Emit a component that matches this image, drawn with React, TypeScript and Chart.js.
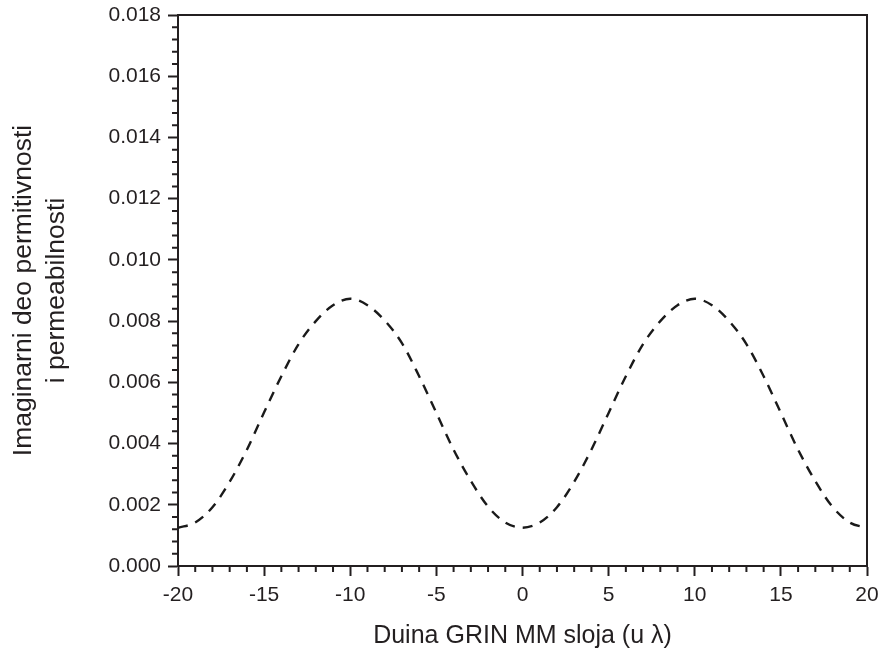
import React, { useEffect, useRef } from "react";
import { Chart, registerables } from "chart.js";

Chart.register(...registerables);

const xValues: number[] = [
  -20, -19, -18, -17, -16, -15, -14, -13, -12, -11, -10, -9, -8, -7, -6, -5, -4, -3, -2, -1, 0,
  1, 2, 3, 4, 5, 6, 7, 8, 9, 10, 11, 12, 13, 14, 15, 16, 17, 18, 19, 20,
];
const yValues: number[] = [
  0.00125, 0.00142, 0.00192, 0.00275, 0.0038, 0.00502, 0.0062, 0.00725, 0.008, 0.00852, 0.00873,
  0.00852, 0.00802, 0.00728, 0.0062, 0.005, 0.0038, 0.00278, 0.00194, 0.00142, 0.00125,
  0.00142, 0.00192, 0.00275, 0.0038, 0.005, 0.0062, 0.00725, 0.008, 0.00852, 0.00873,
  0.00852, 0.008, 0.00725, 0.0062, 0.005, 0.0038, 0.00277, 0.00193, 0.00142, 0.00125,
];
const xTitle = "Duina GRIN MM sloja (u λ)";
const yTitle = ["Imaginarni deo permitivnosti", "i permeabilnosti"];
const xMin = -20, xMax = 20, xMajor = 5, xMinor = 1;
const yMin = 0, yMax = 0.018, yMajor = 0.002, yMinor = 0.0004;

const INK = "#231f20";
const FONT = "'Liberation Sans', Arial, sans-serif";

const framePlugin = {
  id: "frameAndMinor",
  afterDraw(chart: any) {
    const { ctx, chartArea, scales } = chart;
    const { left, right, top, bottom } = chartArea;
    ctx.save();
    ctx.strokeStyle = INK;
    ctx.lineWidth = 2;
    ctx.beginPath();
    ctx.moveTo(left, top);
    ctx.lineTo(right, top);
    ctx.lineTo(right, bottom);
    ctx.stroke();
    ctx.beginPath();
    const nx = Math.round((xMax - xMin) / xMinor);
    for (let i = 0; i <= nx; i++) {
      const v = xMin + i * xMinor;
      if (Math.abs(v / xMajor - Math.round(v / xMajor)) < 1e-6) continue;
      const px = scales.x.getPixelForValue(v);
      ctx.moveTo(px, bottom);
      ctx.lineTo(px, bottom + 6);
    }
    const ny = Math.round((yMax - yMin) / yMinor);
    for (let i = 0; i <= ny; i++) {
      const v = yMin + i * yMinor;
      if (Math.abs(v / yMajor - Math.round(v / yMajor)) < 1e-6) continue;
      const py = scales.y.getPixelForValue(v);
      ctx.moveTo(left - 6, py);
      ctx.lineTo(left, py);
    }
    ctx.stroke();
    ctx.restore();
  },
};

export default function App() {
  const ref = useRef<HTMLCanvasElement | null>(null);
  useEffect(() => {
    if (!ref.current) return;
    const data = xValues.map((x, i) => ({ x, y: yValues[i] }));
    const chart = new Chart(ref.current, {
      type: "line",
      data: {
        datasets: [
          {
            data,
            borderColor: "#1a1a1a",
            borderWidth: 2.4,
            borderDash: [10, 8],
            pointRadius: 0,
            fill: false,
            cubicInterpolationMode: "monotone",
          },
        ],
      },
      options: {
        responsive: false,
        animation: false,
        events: [],
        layout: { padding: 0 },
        plugins: { legend: { display: false }, tooltip: { enabled: false } },
        scales: {
          x: {
            type: "linear",
            min: xMin,
            max: xMax,
            afterFit: (s: any) => {
              s.height = 85;
              s.paddingLeft = 0;
              s.paddingRight = 13;
            },
            ticks: {
              stepSize: xMajor,
              color: INK,
              padding: 7,
              font: { family: FONT, size: 21 },
              maxRotation: 0,
              callback: (v: any) => String(v),
            },
            grid: {
              display: true,
              drawOnChartArea: false,
              drawTicks: true,
              tickLength: 10,
              tickWidth: 2,
              tickColor: INK,
            },
            border: { display: true, color: INK, width: 2 },
            title: {
              display: true,
              text: xTitle,
              color: INK,
              font: { family: FONT, size: 25, lineHeight: 1.2 },
              padding: { top: 0, bottom: 0 },
            },
          },
          y: {
            type: "linear",
            min: yMin,
            max: yMax,
            afterFit: (s: any) => {
              s.width = 178;
              s.paddingTop = 15;
              s.paddingBottom = 0;
            },
            ticks: {
              stepSize: yMajor,
              color: INK,
              padding: 7,
              font: { family: FONT, size: 21 },
              callback: (v: any) => Number(v).toFixed(3),
            },
            grid: {
              display: true,
              drawOnChartArea: false,
              drawTicks: true,
              tickLength: 10,
              tickWidth: 2,
              tickColor: INK,
            },
            border: { display: true, color: INK, width: 2 },
            title: {
              display: true,
              text: yTitle,
              color: INK,
              font: { family: FONT, size: 26.5, lineHeight: 1.25 },
              padding: { top: 7, bottom: 0 },
            },
          },
        },
      },
      plugins: [framePlugin],
    } as any);
    return () => chart.destroy();
  }, []);
  return (
    <div style={{ position: "absolute", left: 0, top: 0, width: 880, height: 651, background: "#fff" }}>
      <canvas ref={ref} width={880} height={651} style={{ display: "block" }} />
    </div>
  );
}
